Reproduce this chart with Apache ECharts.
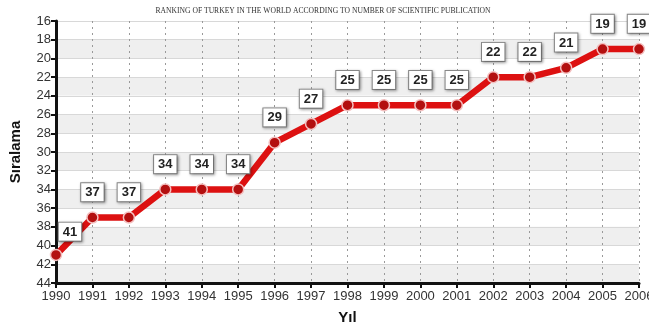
<!DOCTYPE html>
<html>
<head>
<meta charset="utf-8">
<script src="https://cdn.jsdelivr.net/npm/echarts@6/dist/echarts.min.js"></script>
<style>
	html, body { margin: 0; padding: 0; background: #fff; }
	#chart { width: 649px; height: 329px; }
</style>
</head>
<body>
<div id="chart"></div>
<script>
// 年份
const years = ['1990', '1991', '1992', '1993', '1994', '1995', '1996', '1997', '1998',
	'1999', '2000', '2001', '2002', '2003', '2004', '2005', '2006'];
// 排名
const ranks = [41, 37, 37, 34, 34, 34, 29, 27, 25, 25, 25, 25, 22, 22, 21, 19, 19];
const titleText = 'RANKING OF TURKEY IN THE WORLD ACCORDING TO NUMBER OF SCIENTIFIC PUBLICATION';

let myChart = echarts.init(document.getElementById('chart'));

const seriesData = ranks.map((v, i) => {
	let item = { value: v };
	// 第一个标签偏右
	if (i === 0) {
		item.label = { offset: [14, 2] };
	}
	return item;
});

myChart.setOption({
	animation: false,
	title: {
		text: titleText,
		left: 318,
		textAlign: 'center',
		top: 2,
		textStyle: {
			fontFamily: 'Liberation Serif',
			fontSize: 7.6,
			fontWeight: 'normal',
			color: '#333'
		}
	},
	grid: {
		left: 56,
		right: 10,
		top: 21,
		bottom: 46,
		outerBoundsMode: 'none'
	},
	xAxis: {
		type: 'category',
		data: years,
		boundaryGap: false,
		name: 'Yıl',
		nameLocation: 'middle',
		nameGap: 27,
		nameTextStyle: { fontFamily: 'Arial', fontSize: 15, fontWeight: 'bold', color: '#111' },
		axisLine: { lineStyle: { color: '#111', width: 3 } },
		axisTick: { interval: 0, length: 5, lineStyle: { color: '#111', width: 2 } },
		axisLabel: { interval: 0, fontFamily: 'Arial', fontSize: 13, color: '#333', margin: 7 },
		splitLine: {
			show: true,
			interval: 0,
			lineStyle: { color: '#999', type: [2, 4], width: 1 }
		}
	},
	yAxis: {
		type: 'value',
		inverse: true,
		min: 16,
		max: 44,
		interval: 2,
		name: 'Sıralama',
		nameLocation: 'middle',
		nameGap: 33,
		nameTextStyle: { fontFamily: 'Arial', fontSize: 15, fontWeight: 'bold', color: '#111' },
		axisLine: { show: true, lineStyle: { color: '#111', width: 3 } },
		axisTick: { show: true, length: 5, lineStyle: { color: '#111', width: 2 } },
		axisLabel: { fontFamily: 'Arial', fontSize: 13, color: '#333', margin: 5 },
		splitLine: { lineStyle: { color: '#d8d8d8', width: 1 } },
		splitArea: { show: true, areaStyle: { color: ['#ffffff', '#efefef'] } }
	},
	series: [
		{
			type: 'line',
			data: seriesData,
			symbol: 'circle',
			symbolSize: 11,
			lineStyle: { color: '#dd1111', width: 6.5 },
			itemStyle: { color: '#b30f0f', borderColor: '#f4c0c0', borderWidth: 1.5 },
			label: {
				show: true,
				position: 'top',
				distance: 10,
				fontFamily: 'Arial',
				fontSize: 13,
				fontWeight: 'bold',
				color: '#222',
				backgroundColor: '#fff',
				borderColor: '#888',
				borderWidth: 1,
				padding: [3, 4, 2, 4],
				shadowColor: 'rgba(0,0,0,0.35)',
				shadowBlur: 3,
				shadowOffsetX: 1,
				shadowOffsetY: 1
			},
			z: 5
		}
	]
});
</script>
</body>
</html>
